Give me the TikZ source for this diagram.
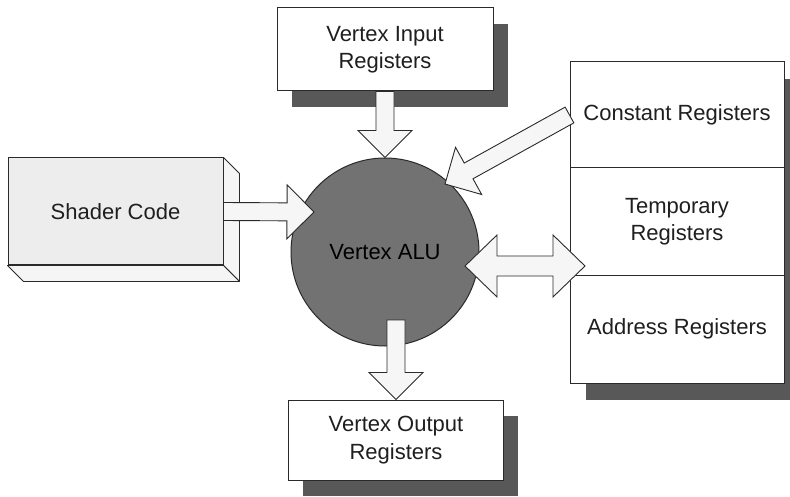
\documentclass[tikz,border=0pt]{standalone}
\usepackage{fontspec}
\setmainfont{Liberation Sans}
\usetikzlibrary{calc}

\definecolor{inkline}{HTML}{2A2A2A}
\definecolor{facegray}{HTML}{EDEDED}
\definecolor{sidegray}{HTML}{F5F5F5}
\definecolor{shadowgray}{HTML}{585858}
\definecolor{alugray}{HTML}{727272}
\definecolor{arrowfill}{HTML}{F6F6F6}

% shaft half width, head length, head half width of the block arrows
\newcommand\fasw{9pt}
\newcommand\fahl{27pt}
\newcommand\fahw{27pt}

% single block arrow from #2 to #3
\newcommand\fatarrow[3][]{%
  \coordinate (fa-h) at ($(#3)!\fahl!(#2)$);
  \draw[blockarrow,#1]
    ($(#2)!\fasw!90:(#3)$) -- ($(fa-h)!\fasw!90:(#3)$) -- ($(fa-h)!\fahw!90:(#3)$)
    -- (#3)
    -- ($(fa-h)!\fahw!-90:(#3)$) -- ($(fa-h)!\fasw!-90:(#3)$) -- ($(#2)!\fasw!-90:(#3)$)
    -- cycle;}

% double block arrow between #1 and #2
\newcommand\dblarrow[2]{%
  \coordinate (da-a) at ($(#1)!32pt!(#2)$);
  \coordinate (da-b) at ($(#2)!32pt!(#1)$);
  \draw[blockarrow]
    (#1) -- ($(da-a)!31pt!90:(#2)$) -- ($(da-a)!10pt!90:(#2)$)
    -- ($(da-b)!10pt!-90:(#1)$) -- ($(da-b)!31pt!-90:(#1)$)
    -- (#2)
    -- ($(da-b)!31pt!90:(#1)$) -- ($(da-b)!10pt!90:(#1)$)
    -- ($(da-a)!10pt!-90:(#2)$) -- ($(da-a)!31pt!-90:(#2)$)
    -- cycle;}

\tikzset{
  label text/.style={font=\fontsize{22}{27.5}\selectfont, text=black!88, align=center},
  regbox/.style={label text, draw=inkline, line width=1pt, fill=white, inner sep=0pt},
  boxshadow/.style={fill=shadowgray, draw=none},
  blockarrow/.style={draw=inkline, line width=0.9pt, fill=arrowfill, line join=miter},
  face/.style={draw=inkline, line width=0.9pt, fill=sidegray, line join=round},
}

\begin{document}
\begin{tikzpicture}[x=1pt, y=-1pt]
\useasboundingbox[fill=white] (0,0) rectangle (790,497);

% --- shadows of the flat boxes
\fill[boxshadow] (292,24) rectangle (508,107);
\fill[boxshadow] (303,416) rectangle (518,496);
\fill[boxshadow] (586,79) rectangle (800,400);

% --- Vertex input registers
\node[regbox, minimum width=216pt, minimum height=83pt] (vin) at (385,49.5)
  {Vertex Input\\Registers};

% --- Vertex output registers
\node[regbox, minimum width=215pt, minimum height=80pt] (vout) at (396,440)
  {Vertex Output\\Registers};

% --- register file stack
\node[regbox, minimum width=214pt, minimum height=106pt] (const) at (677,115)
  {Constant Registers};
\node[regbox, minimum width=214pt, minimum height=107pt] (temp) at (677,221.5)
  {Temporary\\Registers};
\node[regbox, minimum width=214pt, minimum height=108pt] (addr) at (677,329)
  {Address Registers};

% --- shader code block with its depth faces
\node[regbox, fill=facegray, minimum width=215pt, minimum height=107pt] (shader) at (115.5,211.5)
  {Shader Code};
\draw[face] (shader.north east) -- ++(16,16) -- ($(shader.south east)+(16,16)$)
  -- (shader.south east) -- cycle;
\draw[face] (shader.south west) -- (shader.south east) -- ++(16,16)
  -- ($(shader.south west)+(16,16)$) -- cycle;

% --- the ALU
\node[circle, draw=inkline, line width=1pt, fill=alugray, minimum size=188pt,
      inner sep=0pt, label text, text=black] (alu) at (385,252) {Vertex ALU};

% --- data paths
\coordinate (alu-sc) at (314,212);
\coordinate (alu-cr) at (445,184);
\coordinate (alu-out) at (396,320);
\coordinate (alu-tr) at (465,266);
\coordinate (tr-in) at (585,266);

\fatarrow{vin.south}{alu.north}
\fatarrow[]{shader.east}{alu-sc}
\fatarrow{const.west}{alu-cr}
\fatarrow{alu-out}{vout.north}
\dblarrow{alu-tr}{tr-in}

\end{tikzpicture}
\end{document}
